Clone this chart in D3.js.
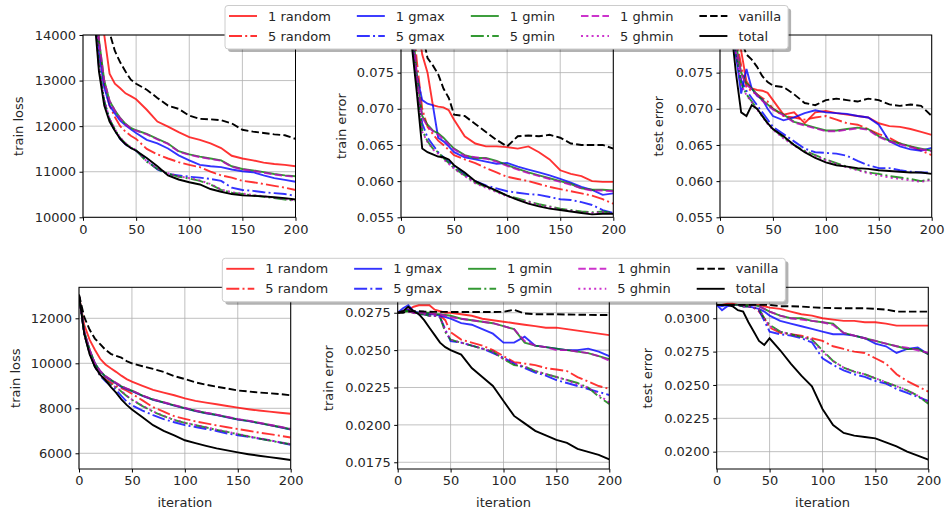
<!DOCTYPE html>
<html lang="en">
<head>
<meta charset="UTF-8" />
<title>train / test curves</title>
<script src="https://d3js.org/d3.v7.min.js"></script>
<style>
  body { margin: 0; background: #fff; }
  text { font-family: "DejaVu Sans", sans-serif; fill: #262626; }
  .grid line { stroke: #b0b0b0; stroke-width: 0.8; }
  .tick text { font-size: 13px; }
</style>
</head>
<body>
<svg width="947" height="514"></svg>
<script>
var iters = [0, 5, 10, 15, 20, 25, 30, 35, 40, 45, 50, 60, 70, 80, 90, 100, 110, 120, 130, 140, 150, 160, 170, 180, 190, 200];
var seriesNames = ["1 random", "5 random", "1 gmax", "5 gmax", "1 gmin", "5 gmin", "1 ghmin", "5 ghmin", "vanilla", "total"];
var xTicks = [0, 50, 100, 150, 200];

// one row per series, in seriesNames order
var topTrainLoss = [
  [30000,22000,17500,15200,14000,13150,12930,12830,12720,12660,12590,12360,12100,11990,11870,11760,11700,11620,11520,11350,11290,11250,11200,11170,11150,11120],
  [30000,21000,16000,13800,12900,12450,12200,12000,11880,11790,11720,11500,11380,11290,11210,11150,11100,11000,10920,10870,10800,10770,10730,10690,10650,10600],
  [30000,20000,15000,13600,12850,12450,12280,12120,12020,11930,11850,11700,11620,11510,11360,11250,11150,11120,11100,11050,11010,10990,10920,10860,10820,10780],
  [30000,19500,14800,13300,12550,12150,11900,11720,11600,11520,11460,11250,11050,10950,10920,10890,10870,10840,10800,10650,10600,10580,10550,10530,10510,10470],
  [30000,20500,15500,13900,13000,12550,12350,12180,12050,11960,11910,11830,11720,11620,11450,11380,11330,11290,11250,11120,11060,11030,10990,10950,10920,10900],
  [30000,19500,14900,13350,12550,12150,11930,11740,11620,11530,11470,11220,11060,10960,10890,10850,10800,10720,10600,10540,10510,10480,10450,10420,10390,10360],
  [30000,20400,15450,13880,12990,12560,12340,12170,12040,11950,11900,11820,11710,11610,11440,11370,11320,11280,11240,11110,11050,11020,10980,10940,10910,10890],
  [30000,19600,14950,13380,12570,12160,11940,11750,11630,11540,11480,11230,11070,10970,10900,10860,10810,10730,10610,10550,10520,10490,10460,10430,10400,10370],
  [40000,27000,19500,16500,14900,14050,13650,13400,13200,13020,12930,12800,12620,12450,12380,12230,12160,12150,12130,12060,11920,11880,11850,11820,11800,11720],
  [30000,19000,14600,13200,12450,12100,11900,11720,11600,11520,11460,11300,11120,10920,10830,10770,10720,10620,10560,10510,10480,10470,10460,10440,10420,10390]
];
var topTrainErr = [
  [0.11,0.098,0.088,0.0825,0.0775,0.0750,0.0705,0.0703,0.0702,0.0698,0.0685,0.0662,0.0652,0.0648,0.0648,0.0647,0.0645,0.0648,0.0640,0.0630,0.0615,0.0610,0.0607,0.0600,0.0599,0.0599],
  [0.11,0.095,0.084,0.0765,0.0700,0.0675,0.0665,0.0656,0.0650,0.0643,0.0636,0.0630,0.0625,0.0618,0.0612,0.0606,0.0603,0.0600,0.0596,0.0592,0.0589,0.0586,0.0583,0.0580,0.0575,0.0569],
  [0.11,0.092,0.080,0.0745,0.0712,0.0707,0.0705,0.0660,0.0655,0.0648,0.0640,0.0633,0.0630,0.0627,0.0624,0.0625,0.0620,0.0616,0.0612,0.0608,0.0603,0.0598,0.0592,0.0588,0.0581,0.0583],
  [0.11,0.093,0.082,0.0735,0.0680,0.0660,0.0650,0.0640,0.0633,0.0627,0.0620,0.0610,0.0600,0.0594,0.0590,0.0586,0.0584,0.0582,0.0581,0.0578,0.0575,0.0574,0.0571,0.0567,0.0560,0.0556],
  [0.11,0.094,0.083,0.0745,0.0690,0.0678,0.0670,0.0666,0.0660,0.0652,0.0645,0.0636,0.0632,0.0632,0.0628,0.0622,0.0617,0.0612,0.0608,0.0604,0.0600,0.0596,0.0590,0.0588,0.0588,0.0587],
  [0.11,0.093,0.082,0.0730,0.0670,0.0655,0.0645,0.0640,0.0632,0.0625,0.0618,0.0608,0.0598,0.0592,0.0586,0.0580,0.0576,0.0572,0.0568,0.0565,0.0562,0.0560,0.0558,0.0557,0.0558,0.0556],
  [0.11,0.094,0.083,0.0743,0.0688,0.0676,0.0669,0.0664,0.0658,0.0651,0.0644,0.0635,0.0633,0.0631,0.0627,0.0621,0.0616,0.0611,0.0607,0.0603,0.0599,0.0595,0.0590,0.0587,0.0587,0.0586],
  [0.11,0.093,0.082,0.0728,0.0668,0.0654,0.0644,0.0638,0.0630,0.0624,0.0617,0.0607,0.0597,0.0591,0.0585,0.0579,0.0575,0.0571,0.0567,0.0564,0.0561,0.0559,0.0557,0.0556,0.0557,0.0555],
  [0.12,0.10,0.09,0.085,0.0805,0.0770,0.0760,0.0748,0.0728,0.0715,0.0692,0.0690,0.0679,0.0668,0.0657,0.0648,0.0662,0.0663,0.0662,0.0664,0.0660,0.0652,0.0650,0.0650,0.0650,0.0645],
  [0.11,0.092,0.079,0.0721,0.0645,0.0640,0.0637,0.0634,0.0633,0.0630,0.0622,0.0612,0.0600,0.0593,0.0587,0.0580,0.0574,0.0569,0.0565,0.0562,0.0560,0.0558,0.0556,0.0554,0.0555,0.0555]
];
var topTestErr = [
  [0.11,0.095,0.087,0.082,0.0780,0.0738,0.0728,0.0726,0.0725,0.0722,0.0712,0.0692,0.0695,0.0680,0.0695,0.0697,0.0694,0.0692,0.0690,0.0688,0.0680,0.0676,0.0675,0.0672,0.0668,0.0664],
  [0.11,0.094,0.086,0.080,0.0760,0.0730,0.0724,0.0720,0.0715,0.0710,0.0700,0.0690,0.0688,0.0685,0.0688,0.0690,0.0685,0.0680,0.0678,0.0672,0.0665,0.0660,0.0652,0.0648,0.0642,0.0636],
  [0.11,0.092,0.083,0.0775,0.0721,0.0755,0.0728,0.0718,0.0713,0.0700,0.0690,0.0684,0.0688,0.0694,0.0698,0.0695,0.0694,0.0693,0.0690,0.0688,0.0678,0.0655,0.0648,0.0644,0.0642,0.0646],
  [0.11,0.092,0.083,0.0775,0.0740,0.0725,0.0715,0.0705,0.0695,0.0685,0.0675,0.0665,0.0655,0.0645,0.0640,0.0639,0.0638,0.0635,0.0628,0.0622,0.0618,0.0618,0.0615,0.0613,0.0612,0.0612],
  [0.11,0.093,0.084,0.079,0.0750,0.0735,0.0728,0.0720,0.0712,0.0706,0.0700,0.0692,0.0682,0.0678,0.0674,0.0670,0.0670,0.0672,0.0674,0.0672,0.0662,0.0656,0.0652,0.0648,0.0645,0.0642],
  [0.11,0.092,0.083,0.078,0.0735,0.0720,0.0710,0.0700,0.0690,0.0680,0.0672,0.0660,0.0650,0.0642,0.0636,0.0630,0.0625,0.0620,0.0616,0.0612,0.0610,0.0607,0.0605,0.0603,0.0600,0.0603],
  [0.11,0.093,0.084,0.0788,0.0748,0.0733,0.0727,0.0719,0.0711,0.0705,0.0699,0.0691,0.0681,0.0677,0.0673,0.0669,0.0669,0.0671,0.0673,0.0671,0.0661,0.0655,0.0651,0.0647,0.0644,0.0641],
  [0.11,0.092,0.083,0.0778,0.0733,0.0719,0.0709,0.0699,0.0689,0.0679,0.0671,0.0659,0.0649,0.0641,0.0635,0.0629,0.0624,0.0619,0.0615,0.0611,0.0608,0.0605,0.0603,0.0601,0.0599,0.0602],
  [0.12,0.10,0.088,0.083,0.0795,0.0775,0.0768,0.0758,0.0745,0.0737,0.0732,0.0730,0.0720,0.0708,0.0705,0.0712,0.0714,0.0712,0.0710,0.0714,0.0712,0.0706,0.0704,0.0706,0.0704,0.0690],
  [0.11,0.092,0.082,0.075,0.0695,0.0690,0.0705,0.0700,0.0690,0.0680,0.0672,0.0662,0.0650,0.0640,0.0632,0.0626,0.0622,0.0620,0.0618,0.0617,0.0615,0.0614,0.0613,0.0612,0.0612,0.0610]
];
var botTrainLoss = [
  [13000,11700,11050,10600,10200,9950,9780,9620,9450,9300,9190,9000,8820,8700,8580,8440,8330,8250,8180,8100,8030,7960,7900,7850,7800,7760],
  [13000,11350,10500,9900,9500,9300,9150,9000,8900,8780,8650,8350,8050,7850,7650,7530,7420,7330,7240,7160,7080,7000,6920,6850,6780,6700],
  [13000,11400,10600,10000,9650,9400,9250,9100,8950,8850,8760,8550,8380,8250,8120,8000,7880,7780,7700,7600,7500,7430,7340,7250,7160,7060],
  [13000,11300,10450,9850,9450,9200,9000,8820,8550,8300,8130,7900,7700,7520,7380,7250,7170,7080,6990,6880,6800,6730,6650,6580,6480,6380],
  [13000,11400,10600,10000,9650,9420,9270,9120,8980,8870,8780,8560,8390,8260,8130,8010,7890,7790,7710,7610,7510,7440,7350,7260,7170,7070],
  [13000,11300,10450,9850,9450,9250,9080,8920,8750,8550,8380,8100,7850,7650,7480,7350,7250,7150,7040,6950,6850,6750,6660,6570,6480,6400],
  [13000,11400,10600,10000,9660,9430,9280,9130,8990,8880,8790,8570,8400,8270,8140,8020,7900,7800,7720,7620,7520,7450,7360,7270,7180,7080],
  [13000,11300,10450,9850,9460,9260,9090,8930,8760,8560,8390,8110,7860,7660,7490,7360,7260,7160,7050,6960,6860,6760,6670,6580,6490,6410],
  [13050,12050,11500,11100,10850,10600,10420,10330,10250,10100,10000,9870,9750,9620,9430,9300,9150,9050,8960,8880,8790,8750,8700,8670,8630,8580],
  [13050,11300,10400,9850,9500,9250,8950,8700,8400,8150,7950,7600,7250,7000,6800,6580,6450,6330,6220,6130,6040,5960,5890,5830,5770,5700]
];
var botTrainErr = [
  [0.0275,0.0276,0.0277,0.0279,0.0280,0.0280,0.0280,0.0277,0.0276,0.0275,0.0275,0.0274,0.0273,0.0271,0.0270,0.0269,0.0268,0.0267,0.0266,0.0265,0.0265,0.0264,0.0263,0.0262,0.0261,0.0260],
  [0.0275,0.0276,0.0277,0.0276,0.0275,0.0275,0.0274,0.0274,0.0273,0.0270,0.0262,0.0257,0.0255,0.0253,0.0250,0.0246,0.0242,0.0241,0.0240,0.0238,0.0237,0.0236,0.0232,0.0229,0.0226,0.0224],
  [0.0275,0.0278,0.0280,0.0276,0.0275,0.0275,0.0274,0.0274,0.0273,0.0272,0.0271,0.0268,0.0267,0.0264,0.0261,0.0255,0.0255,0.0259,0.0253,0.0252,0.0251,0.0250,0.0250,0.0251,0.0249,0.0246],
  [0.0275,0.0276,0.0277,0.0275,0.0274,0.0274,0.0273,0.0273,0.0272,0.0264,0.0256,0.0255,0.0253,0.0251,0.0248,0.0245,0.0241,0.0238,0.0235,0.0233,0.0230,0.0228,0.0226,0.0224,0.0222,0.0220],
  [0.0275,0.0276,0.0276,0.0275,0.0275,0.0275,0.0275,0.0274,0.0274,0.02735,0.0273,0.0271,0.0270,0.0269,0.0268,0.0266,0.0264,0.0255,0.0253,0.0252,0.0251,0.0250,0.0249,0.0248,0.0246,0.0244],
  [0.0275,0.0276,0.0276,0.0275,0.0274,0.0274,0.0273,0.0273,0.0272,0.0262,0.0257,0.0255,0.0253,0.0251,0.0249,0.0244,0.0240,0.0239,0.0236,0.0234,0.0232,0.0230,0.0228,0.0225,0.0219,0.0214],
  [0.0275,0.0276,0.0276,0.0275,0.0275,0.0275,0.0275,0.0274,0.0274,0.0273,0.0272,0.0271,0.0270,0.0269,0.0268,0.0266,0.0264,0.0256,0.0253,0.0252,0.0250,0.0250,0.0249,0.0248,0.0246,0.0243],
  [0.0275,0.0276,0.0276,0.0275,0.0274,0.0274,0.0273,0.0273,0.0272,0.0263,0.0257,0.0255,0.0253,0.0251,0.0249,0.0244,0.0241,0.0239,0.0236,0.0234,0.0232,0.0230,0.0227,0.0225,0.0220,0.0215],
  [0.0275,0.0275,0.0276,0.0276,0.0276,0.02758,0.02757,0.02756,0.02756,0.02756,0.02755,0.02755,0.02755,0.02755,0.02755,0.02756,0.0277,0.02745,0.0274,0.0274,0.0274,0.02738,0.02737,0.02736,0.02735,0.02735],
  [0.0275,0.0276,0.0279,0.0276,0.0274,0.0270,0.0265,0.0260,0.0255,0.0252,0.0250,0.0247,0.0238,0.0232,0.0226,0.0216,0.0206,0.0201,0.0196,0.0193,0.0190,0.0188,0.0184,0.0182,0.0180,0.0177]
];
var botTestErr = [
  [0.0310,0.0310,0.0311,0.0311,0.0310,0.0310,0.0310,0.0310,0.0310,0.0309,0.0308,0.0307,0.0305,0.0303,0.0302,0.0300,0.0299,0.0298,0.0298,0.0297,0.0297,0.0296,0.02945,0.02945,0.02945,0.02945],
  [0.0310,0.0310,0.0310,0.0310,0.0310,0.0309,0.0309,0.0308,0.0305,0.0300,0.0293,0.0289,0.0288,0.0287,0.0285,0.0283,0.0279,0.0277,0.0275,0.0274,0.0270,0.0266,0.0258,0.0253,0.0249,0.0245],
  [0.0310,0.0306,0.0309,0.0310,0.0310,0.0309,0.0309,0.0308,0.0307,0.0305,0.0302,0.0298,0.0296,0.0294,0.0292,0.0290,0.0288,0.0288,0.0287,0.0285,0.0281,0.0279,0.0274,0.0277,0.0278,0.0273],
  [0.0310,0.0309,0.0310,0.0310,0.0310,0.0309,0.0309,0.0308,0.0306,0.0298,0.0290,0.0288,0.0287,0.0285,0.0282,0.0270,0.0265,0.0261,0.0258,0.0256,0.0253,0.0251,0.0247,0.0244,0.0241,0.0238],
  [0.0310,0.0310,0.0310,0.0310,0.0310,0.0310,0.0310,0.0310,0.0309,0.0307,0.0305,0.0302,0.0300,0.0300,0.0298,0.0297,0.0296,0.0289,0.0287,0.0285,0.0283,0.0281,0.0279,0.0277,0.0277,0.0273],
  [0.0310,0.0310,0.0310,0.0310,0.0310,0.0309,0.0309,0.0308,0.0307,0.0300,0.0295,0.0290,0.0288,0.0286,0.0284,0.0276,0.0268,0.0263,0.0260,0.0258,0.0255,0.0252,0.0249,0.0246,0.0242,0.0236],
  [0.0310,0.0310,0.0310,0.0310,0.0310,0.0310,0.0310,0.0310,0.0309,0.0307,0.0305,0.0302,0.0300,0.0299,0.0298,0.0297,0.0295,0.0289,0.0287,0.0285,0.0283,0.0281,0.0279,0.0278,0.0276,0.0274],
  [0.0310,0.0310,0.0310,0.0310,0.0310,0.0309,0.0309,0.0308,0.0307,0.0300,0.0294,0.0290,0.0288,0.0286,0.0284,0.0275,0.0268,0.0263,0.0260,0.0258,0.0255,0.0252,0.0249,0.0246,0.0242,0.0237],
  [0.0310,0.0310,0.0310,0.0310,0.0310,0.0310,0.0310,0.0310,0.0310,0.0310,0.0310,0.0309,0.0309,0.03088,0.03082,0.03078,0.03076,0.03075,0.03075,0.03075,0.0307,0.03065,0.0305,0.0305,0.0305,0.0305],
  [0.0310,0.0310,0.0310,0.0309,0.0306,0.0305,0.0297,0.0290,0.0283,0.0280,0.0285,0.0276,0.0266,0.0257,0.0249,0.0232,0.0220,0.0214,0.0212,0.0211,0.0210,0.0207,0.0204,0.0200,0.0197,0.0194]
];

var topLossTicks = [10000, 11000, 12000, 13000, 14000];
var topErrTicks = [0.055, 0.060, 0.065, 0.070, 0.075];
var botLossTicks = [6000, 8000, 10000, 12000];
var botTrainErrTicks = [0.0175, 0.0200, 0.0225, 0.0250, 0.0275];
var botTestErrTicks = [0.0200, 0.0225, 0.0250, 0.0275, 0.0300];

// matplotlib-ish styles: r, b, g, m with alpha .8, then black
var colors = ["#ff0000", "#ff0000", "#0000ff", "#0000ff", "#008000", "#008000", "#bf00bf", "#bf00bf", "#000000", "#000000"];
var dashes = [null, "13,3.2,2,3.2", null, "13,3.2,2,3.2", null, "13,3.2,2,3.2", "7.5,3.2", "2,3.3", "7.5,3.2", null];

var svg = d3.select("svg");

var panels = [
  { vals: topTrainLoss, ticks: topLossTicks, dom: [10000, 14000], fmt: d3.format("d"), label: "train loss", l: 83, r: 295.5, t: 35, b: 217.3, lx: 18 },
  { vals: topTrainErr, ticks: topErrTicks, dom: [0.055, 0.0802], fmt: d3.format(".3f"), label: "train error", l: 401, r: 613.3, t: 35, b: 217.3, lx: 341.5 },
  { vals: topTestErr, ticks: topErrTicks, dom: [0.055, 0.0802], fmt: d3.format(".3f"), label: "test error", l: 720, r: 931.7, t: 35, b: 217.3, lx: 658 },
  { vals: botTrainLoss, ticks: botLossTicks, dom: [5302, 13378], fmt: d3.format("d"), label: "train loss", l: 79, r: 290.7, t: 287.3, b: 469, lx: 15, xl: true },
  { vals: botTrainErr, ticks: botTrainErrTicks, dom: [0.01705, 0.0292], fmt: d3.format(".4f"), label: "train error", l: 397.7, r: 609.3, t: 287.3, b: 469, lx: 328, xl: true },
  { vals: botTestErr, ticks: botTestErrTicks, dom: [0.0187, 0.03232], fmt: d3.format(".4f"), label: "test error", l: 716.7, r: 928.3, t: 287.3, b: 469, lx: 647, xl: true }
];

panels.forEach(function (p, pi) {
  var x = d3.scaleLinear().domain([0, 200]).range([p.l, p.r]);
  var y = d3.scaleLinear().domain(p.dom).range([p.b, p.t]);

  var clipId = "clip" + pi;
  svg.append("clipPath").attr("id", clipId)
    .append("rect").attr("x", p.l).attr("y", p.t)
    .attr("width", p.r - p.l).attr("height", p.b - p.t);

  var grid = svg.append("g").attr("class", "grid");
  grid.selectAll(".gx").data(xTicks).enter().append("line")
    .attr("x1", function (d) { return x(d); }).attr("x2", function (d) { return x(d); })
    .attr("y1", p.t).attr("y2", p.b);
  grid.selectAll(".gy").data(p.ticks).enter().append("line")
    .attr("x1", p.l).attr("x2", p.r)
    .attr("y1", function (d) { return y(d); }).attr("y2", function (d) { return y(d); });

  var line = d3.line()
    .x(function (d, i) { return x(iters[i]); })
    .y(function (d) { return y(d); });

  svg.append("g").attr("clip-path", "url(#" + clipId + ")")
    .selectAll("path").data(p.vals).enter().append("path")
    .attr("d", line)
    .attr("fill", "none")
    .attr("stroke", function (d, i) { return colors[i]; })
    .attr("stroke-opacity", function (d, i) { return i < 8 ? 0.8 : 1; })
    .attr("stroke-width", 1.9)
    .attr("stroke-dasharray", function (d, i) { return dashes[i]; });

  svg.append("rect")
    .attr("x", p.l).attr("y", p.t)
    .attr("width", p.r - p.l).attr("height", p.b - p.t)
    .attr("fill", "none").attr("stroke", "#000").attr("stroke-width", 1);

  var ax = svg.append("g").attr("transform", "translate(0," + p.b + ")")
    .call(d3.axisBottom(x).tickValues(xTicks).tickSize(3.5).tickPadding(3.5).tickSizeOuter(0));
  var ay = svg.append("g").attr("transform", "translate(" + p.l + ",0)")
    .call(d3.axisLeft(y).tickValues(p.ticks).tickFormat(p.fmt).tickSize(3.5).tickPadding(3.5).tickSizeOuter(0));
  [ax, ay].forEach(function (a) {
    a.select(".domain").remove();
    a.attr("font-family", null).attr("font-size", null);
    a.selectAll(".tick line").attr("stroke", "#000");
    a.selectAll(".tick text").attr("fill", "#262626");
  });

  svg.append("text")
    .attr("transform", "translate(" + p.lx + "," + (p.t + p.b) / 2 + ") rotate(-90)")
    .attr("text-anchor", "middle").attr("dy", "0.35em")
    .attr("font-size", "13px")
    .text(p.label);

  if (p.xl) {
    svg.append("text")
      .attr("x", (p.l + p.r) / 2).attr("y", 507)
      .attr("text-anchor", "middle").attr("font-size", "13px")
      .text("iteration");
  }
});

function drawLegend(left, top) {
  var g = svg.append("g");
  var shadow = g.append("rect"), frame = g.append("rect");
  var cx = left + 4, maxRight = 0;
  for (var c = 0; c < 5; c++) {
    var colW = 0;
    for (var r = 0; r < 2; r++) {
      var i = c * 2 + r, yy = top + 10.5 + r * 20;
      g.append("line")
        .attr("x1", cx).attr("x2", cx + 28).attr("y1", yy).attr("y2", yy)
        .attr("stroke", colors[i]).attr("stroke-opacity", i < 8 ? 0.8 : 1)
        .attr("stroke-width", 1.9).attr("stroke-dasharray", dashes[i]);
      var t = g.append("text")
        .attr("x", cx + 39).attr("y", yy).attr("dy", "0.35em")
        .attr("font-size", "13px").text(seriesNames[i]);
      colW = Math.max(colW, t.node().getComputedTextLength());
    }
    maxRight = cx + 39 + colW;
    cx = maxRight + 26;
  }
  var w = maxRight + 7 - left, h = 43.5;
  shadow.attr("x", left + 3).attr("y", top + 3).attr("width", w).attr("height", h)
    .attr("rx", 3).attr("fill", "#000").attr("fill-opacity", 0.3);
  frame.attr("x", left).attr("y", top).attr("width", w).attr("height", h)
    .attr("rx", 3).attr("fill", "#fff").attr("stroke", "#cccccc").attr("stroke-width", 1);
}

drawLegend(225, 5.5);
drawLegend(222.3, 258.3);
</script>
</body>
</html>
